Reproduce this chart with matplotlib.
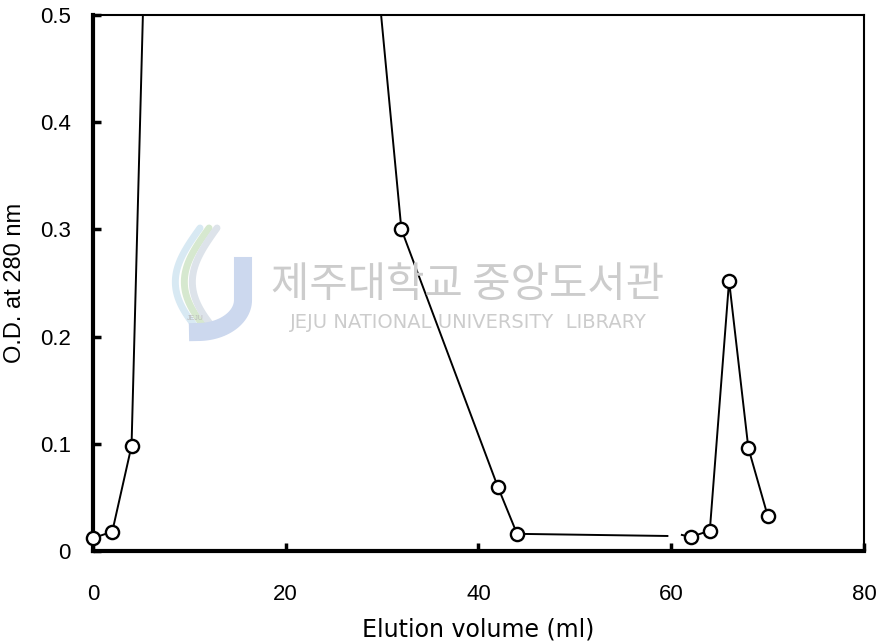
import numpy as np
import matplotlib.pyplot as plt
from matplotlib.lines import Line2D

# --- Data ---
# first peak: rises off the top of the plot and comes back down
peak1_vol = [0, 2, 4, 6, 28, 32, 42, 44]
peak1_od = [0.012, 0.018, 0.098, 0.78, 0.68, 0.300, 0.060, 0.016]
# flat baseline between the peaks (no markers, broken near 60 ml)
base_vol = [44, 59.6]
base_od = [0.016, 0.014]
gap_vol = [61.1, 62]
gap_od = [0.015, 0.013]
# second peak
peak2_vol = [62, 64, 66, 68, 70]
peak2_od = [0.013, 0.019, 0.252, 0.096, 0.033]

xticks = [0, 20, 40, 60, 80]
yticks = [0, 0.1, 0.2, 0.3, 0.4, 0.5]
yticklabels = ["0", "0.1", "0.2", "0.3", "0.4", "0.5"]

plt.rcParams['font.family'] = ['Liberation Sans', 'DejaVu Sans']

W, H = 883, 643
fig = plt.figure(figsize=(W / 100, H / 100), dpi=100)
ax = fig.add_axes([0.1053, 0.1431, 0.8732, 0.8336])

# --- Watermark (library stamp) ---
wm_grey = '#cccccc'
fig.text(0.530, 0.556, "제주대학교 중앙도서관", fontsize=30, color=wm_grey,
         family=['Noto Sans CJK KR', 'DejaVu Sans'], ha='center', va='center', zorder=0)
fig.text(0.530, 0.499, "JEJU NATIONAL UNIVERSITY  LIBRARY", fontsize=14, color=wm_grey,
         family=['DejaVu Sans'], ha='center', va='center', zorder=0)


def px(xs, ys):
    # pixel coords (from top-left) -> figure fraction
    return np.asarray(xs) / W, 1 - np.asarray(ys) / H


# stylised logo: S-shaped swooshes and a J
t = np.linspace(0, 1, 60)
for off, col in [(0, '#d8e9f3'), (9, '#d6e8cf'), (17, '#dde3ea')]:
    xs = 200 + off - 30 * np.sin(np.pi * t * 0.9) + 10 * t
    ys = 228 + 105 * t
    fx, fy = px(xs, ys)
    fig.add_artist(Line2D(fx, fy, color=col, lw=5, solid_capstyle='round', zorder=0))
ang = np.linspace(0, np.pi / 2, 30)
jx = np.concatenate([[243, 243], 243 - 45 * (1 - np.cos(ang))])
jy = np.concatenate([[266, 300], 300 + 32 * np.sin(ang)])
fx, fy = px(jx, jy)
fig.add_artist(Line2D(fx, fy, color='#ccd8ee', lw=13, zorder=0))
fig.text(195 / W, 1 - 318 / H, "JEJU", fontsize=5, color='#bbbbbb',
         ha='center', va='center', zorder=0)

# --- Curves ---
line_kw = dict(color='black', lw=1.4, zorder=3)
ax.plot(peak1_vol, peak1_od, **line_kw)
ax.plot(base_vol, base_od, **line_kw)
ax.plot(gap_vol, gap_od, **line_kw)
ax.plot(peak2_vol, peak2_od, **line_kw)

# open circle markers for measured points that fall inside the plot
mk_kw = dict(ls='none', marker='o', ms=9.5, mfc='white', mec='black', mew=1.7,
             clip_on=False, zorder=4)
v1 = np.array(peak1_vol)
o1 = np.array(peak1_od)
inside = o1 <= 0.5
ax.plot(v1[inside], o1[inside], **mk_kw)
ax.plot(peak2_vol, peak2_od, **mk_kw)

# --- Axes styling ---
ax.set_xlim(0, 80)
ax.set_ylim(0, 0.5)
ax.set_xticks(xticks)
ax.set_yticks(yticks)
ax.set_yticklabels(yticklabels)
ax.tick_params(axis='both', direction='in', length=6, width=2.5, labelsize=16)
ax.tick_params(axis='y', pad=16)
ax.tick_params(axis='x', pad=24)
for side in ['left', 'bottom']:
    ax.spines[side].set_linewidth(3.0)
for side in ['top', 'right']:
    ax.spines[side].set_linewidth(1.5)
ax.patch.set_alpha(0)

ax.set_xlabel("Elution volume (ml)", fontsize=17, family=['DejaVu Sans'])
ax.xaxis.set_label_coords(478 / W, 1 - 617 / H, transform=fig.transFigure)
ax.set_ylabel("O.D. at 280 nm", fontsize=17, labelpad=10)

fig.savefig("out.png", dpi=100)
